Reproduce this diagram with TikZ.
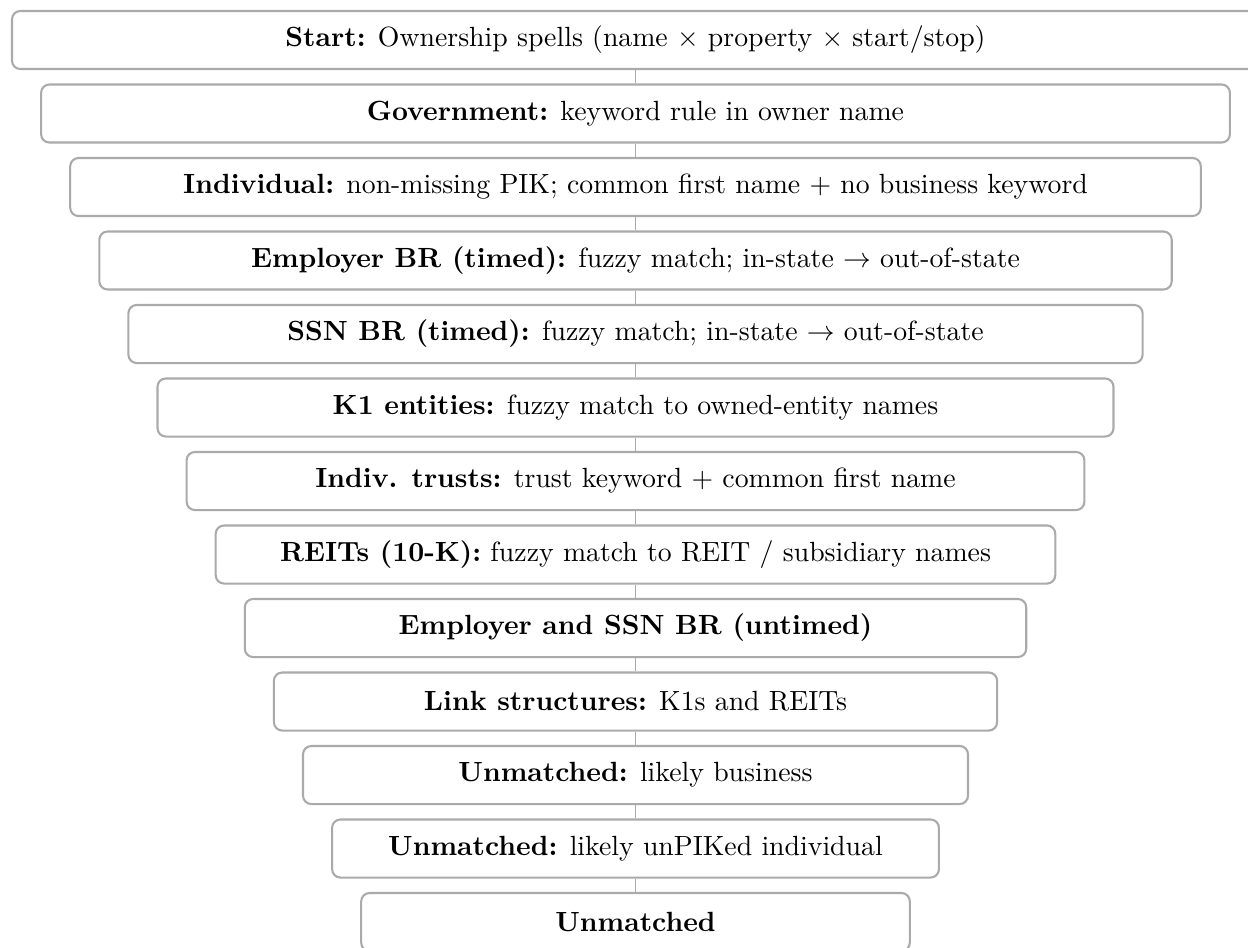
\documentclass[tikz,border=0pt]{standalone}
\usepackage{amsmath}
\definecolor{boxgray}{RGB}{170,170,170}
\tikzset{
  fbox/.style={draw=boxgray, line width=0.75pt, rounded corners=3pt,
    minimum height=20.9pt, inner sep=0pt, fill=white,
    minimum width={(1247-58.2*#1)*0.36}},
  link/.style={draw=boxgray, line width=0.65pt}
}
\begin{document}
\begin{tikzpicture}[x=0.36pt,y=-0.36pt]
\useasboundingbox (0,0) rectangle (1248,947);
\clip (0,0) rectangle (1248,947);
\node[fbox=0]  (n0)  at (635.5,40.0)  {\textbf{Start:} Ownership spells (name $\times$ property $\times$ start/stop)};
\node[fbox=1]  (n1)  at (635.5,113.5) {\textbf{Government:} keyword rule in owner name};
\node[fbox=2]  (n2)  at (635.5,187.0) {\textbf{Individual:} non-missing PIK; common first name + no business keyword};
\node[fbox=3]  (n3)  at (635.5,260.5) {\textbf{Employer BR (timed):} fuzzy match; in-state $\rightarrow$ out-of-state};
\node[fbox=4]  (n4)  at (635.5,334.0) {\textbf{SSN BR (timed):} fuzzy match; in-state $\rightarrow$ out-of-state};
\node[fbox=5]  (n5)  at (635.5,407.5) {\textbf{K1 entities:} fuzzy match to owned-entity names};
\node[fbox=6]  (n6)  at (635.5,481.0) {\textbf{Indiv. trusts:} trust keyword + common first name};
\node[fbox=7]  (n7)  at (635.5,554.5) {\textbf{REITs (10-K):} fuzzy match to REIT / subsidiary names};
\node[fbox=8]  (n8)  at (635.5,628.0) {\textbf{Employer and SSN BR (untimed)}};
\node[fbox=9]  (n9)  at (635.5,701.5) {\textbf{Link structures:} K1s and REITs};
\node[fbox=10] (n10) at (635.5,775.0) {\textbf{Unmatched:} likely business};
\node[fbox=11] (n11) at (635.5,848.5) {\textbf{Unmatched:} likely unPIKed individual};
\node[fbox=12] (n12) at (635.5,922.0) {\textbf{Unmatched}};
\foreach \a/\b in {n0/n1,n1/n2,n2/n3,n3/n4,n4/n5,n5/n6,n6/n7,n7/n8,n8/n9,n9/n10,n10/n11,n11/n12}
  \draw[link] (\a.south) -- (\b.north);
\end{tikzpicture}
\end{document}
